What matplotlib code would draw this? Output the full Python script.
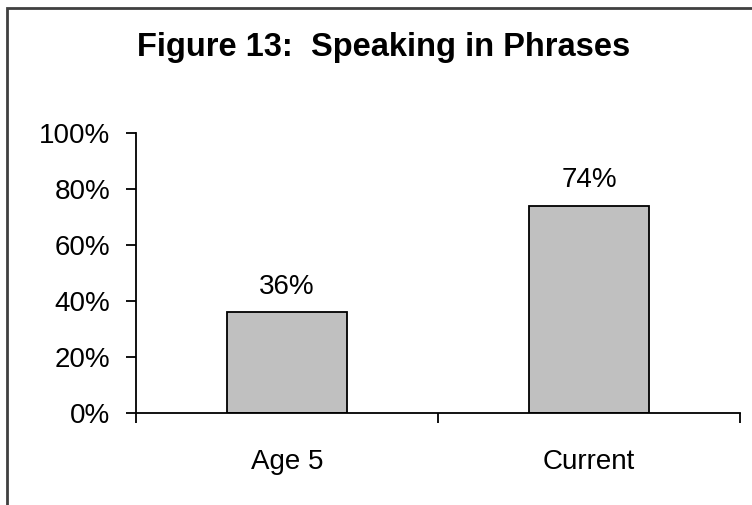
import matplotlib
matplotlib.use('Agg')
import matplotlib.pyplot as plt
from matplotlib.patches import Rectangle

# data
categories = ['Age 5', 'Current']
values = [36, 74]
yticks = [0, 20, 40, 60, 80, 100]
title = 'Figure 13:  Speaking in Phrases'

plt.rcParams['font.family'] = ['Liberation Sans', 'DejaVu Sans']

fig = plt.figure(figsize=(7.52, 5.05), dpi=100)
fig.patch.set_facecolor('white')

# outer frame, cut off at right/bottom like the source image
fig.patches.append(Rectangle((7 / 752, -0.1), 1.2, 1 - 8 / 505 + 0.1,
                             transform=fig.transFigure, fill=False,
                             edgecolor='#404040', linewidth=2))

ax = fig.add_axes([136 / 752, 1 - 413 / 505, (740 - 136) / 752, (413 - 133) / 505])
x = range(len(categories))
ax.bar(x, values, width=0.4, color='#C0C0C0', edgecolor='black', linewidth=1.3)

for xi, v in zip(x, values):
    ax.annotate('%d%%' % v, (xi, v), xytext=(0, 9), textcoords='offset points',
                ha='center', va='bottom', fontsize=20)

ax.set_xlim(-0.5, len(categories) - 0.5)
ax.set_ylim(0, 100)
ax.set_yticks(yticks)
ax.set_yticklabels(['%d%%' % t for t in yticks], fontsize=20)
ax.tick_params(axis='y', length=7.5, width=1.3, direction='out', pad=11)

ax.set_xticks([i - 0.5 for i in range(len(categories) + 1)])
ax.set_xticklabels([])
ax.tick_params(axis='x', length=7.5, width=1.3, direction='out')
ax.set_xticks(list(x), minor=True)
ax.set_xticklabels(categories, minor=True, fontsize=20)
ax.tick_params(axis='x', which='minor', length=0, pad=26)

for s in ['top', 'right']:
    ax.spines[s].set_visible(False)
for s in ['left', 'bottom']:
    ax.spines[s].set_linewidth(1.3)

fig.text(384 / 752, 1 - 56 / 505, title, ha='center', va='baseline',
         fontsize=23.5, fontweight='bold')

fig.savefig('out.png', dpi=100)
